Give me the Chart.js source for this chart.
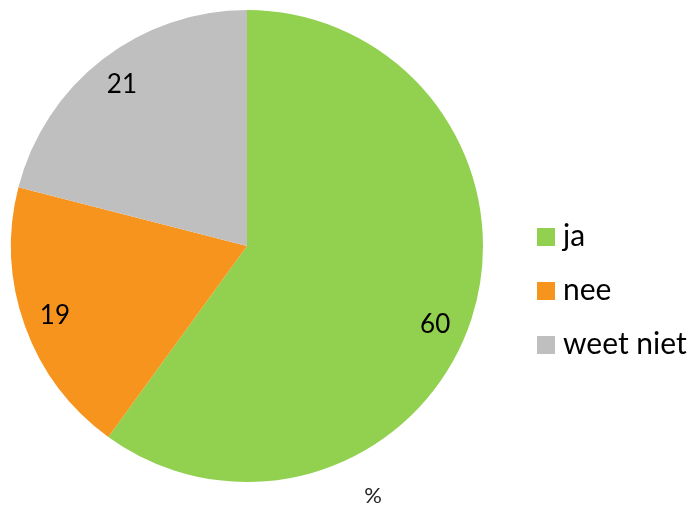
<!DOCTYPE html>
<html>
<head>
<meta charset="utf-8">
<script src="https://cdn.jsdelivr.net/npm/chart.js@4/dist/chart.umd.min.js"></script>
<style>
html,body{margin:0;padding:0;background:#fff;}
#wrap{width:689px;height:505px;position:relative;}
</style>
</head>
<body>
<div id="wrap"><canvas id="c" width="689" height="505"></canvas></div>
<script>
const categories = ['ja', 'nee', 'weet niet'];
const values = [60, 19, 21];
const colors = ['#92D050', '#F7941E', '#BFBFBF'];
const unitLabel = '%';

const FONT = 'Lato, "Open Sans", sans-serif';

const sliceLabels = {
  id: 'sliceLabels',
  afterDatasetsDraw(chart, args, opts) {
    const ctx = chart.ctx;
    const meta = chart.getDatasetMeta(0);
    ctx.save();
    ctx.font = opts.size + 'px ' + FONT;
    ctx.fillStyle = '#000';
    ctx.textAlign = 'center';
    ctx.textBaseline = 'middle';
    meta.data.forEach((arc, i) => {
      const p = arc.getProps(['x','y','startAngle','endAngle','outerRadius'], true);
      const mid = (p.startAngle + p.endAngle) / 2 + (opts.angleShift[i] || 0) * Math.PI / 180;
      const d = p.outerRadius * opts.radial;
      ctx.fillText(String(chart.data.datasets[0].data[i]), p.x + Math.cos(mid) * d, p.y + Math.sin(mid) * d);
    });
    ctx.restore();
  }
};

const sideLegend = {
  id: 'sideLegend',
  afterDraw(chart, args, opts) {
    const ctx = chart.ctx;
    const area = chart.chartArea;
    const cy = (area.top + area.bottom) / 2;
    const n = chart.data.labels.length;
    const x0 = area.right + opts.gap;
    ctx.save();
    ctx.font = opts.size + 'px ' + FONT;
    ctx.textBaseline = 'middle';
    ctx.textAlign = 'left';
    chart.data.labels.forEach((lab, i) => {
      const y = cy + (i - (n - 1) / 2) * opts.step + opts.dy;
      ctx.fillStyle = chart.data.datasets[0].backgroundColor[i];
      ctx.fillRect(x0, y - opts.box / 2, opts.box, opts.box);
      ctx.fillStyle = '#000';
      ctx.fillText(lab, x0 + opts.box + opts.textGap, y - 1);
    });
    // unit label
    ctx.font = opts.unitSize + 'px ' + FONT;
    ctx.textAlign = 'center';
    ctx.fillStyle = '#222';
    ctx.fillText(unitLabel, area.left + opts.unitX, area.bottom + opts.unitDy);
    ctx.restore();
  }
};

new Chart(document.getElementById('c'), {
  type: 'pie',
  data: {
    labels: categories,
    datasets: [{
      data: values,
      backgroundColor: colors,
      borderWidth: 0,
      hoverOffset: 0
    }]
  },
  options: {
    responsive: false,
    animation: false,
    events: [],
    layout: { padding: { left: 11, top: 10, right: 206, bottom: 23 } },
    plugins: {
      legend: { display: false },
      tooltip: { enabled: false },
      title: { display: false },
      sliceLabels: { size: 26, radial: 0.865, angleShift: [4.8, 0, 0] },
      sideLegend: { size: 30, box: 18, gap: 54, textGap: 8, step: 54, dy: 45, unitSize: 22, unitX: 362, unitDy: 14 }
    }
  },
  plugins: [sliceLabels, sideLegend]
});
</script>
</body>
</html>
